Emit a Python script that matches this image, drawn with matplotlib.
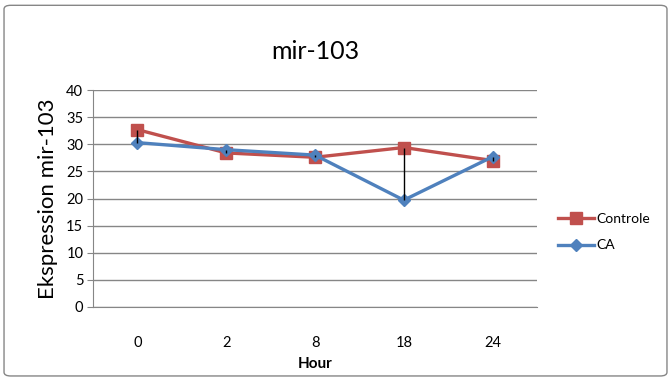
import numpy as np
import matplotlib
matplotlib.use('Agg')
import matplotlib.pyplot as plt
from matplotlib.patches import FancyBboxPatch

# 数据
hours = ['0', '2', '8', '18', '24']
controle = [32.7, 28.4, 27.6, 29.4, 27.0]
ca = [30.3, 29.0, 28.0, 19.7, 27.7]

plt.rcParams['font.family'] = ['Lato', 'DejaVu Sans']

fig = plt.figure(figsize=(6.71, 3.79), dpi=100)
ax = fig.add_axes([0.1386, 0.19, 0.6617, 0.5725])

x = np.arange(len(hours))
red = '#C0504D'
blue = '#4F81BD'

# high-low lines
ax.vlines(x, np.minimum(controle, ca), np.maximum(controle, ca), color='black', lw=1, zorder=4)
ax.plot(x, controle, color=red, lw=2.4, marker='s', ms=8, label='Controle', zorder=2)
ax.plot(x, ca, color=blue, lw=2.4, marker='D', ms=6, label='CA', zorder=3)

ax.set_xlim(-0.5, len(hours) - 0.5)
ax.set_ylim(0, 40)
ax.set_yticks(range(0, 41, 5))
ax.set_xticks(x)
ax.set_xticklabels(hours)
ax.grid(axis='y', color='#868686', lw=1)
ax.set_axisbelow(True)
for s in ['top', 'right']:
    ax.spines[s].set_visible(False)
ax.spines['left'].set_color('#868686')
ax.spines['bottom'].set_color('#868686')
ax.tick_params(axis='y', length=4, color='#868686', labelsize=10.5, pad=3)
ax.tick_params(axis='x', length=0, labelsize=10.5, pad=21)

ax.set_title('mir-103', fontsize=18, pad=22)
ax.set_ylabel('Ekspression mir-103', fontsize=16, labelpad=6)
ax.set_xlabel('Hour', fontsize=11, fontweight='bold', labelpad=5)

ax.legend(loc='center left', bbox_to_anchor=(1.02, 0.345), frameon=False,
          fontsize=10, handlelength=2.6, labelspacing=1.05, handletextpad=0.1)

border = FancyBboxPatch((0.006, 0.008), 0.988, 0.978, boxstyle='round,pad=0,rounding_size=0.01',
                        transform=fig.transFigure, fill=False, edgecolor='#868686', lw=1)
fig.patches.append(border)

fig.savefig('out.png', dpi=100)
